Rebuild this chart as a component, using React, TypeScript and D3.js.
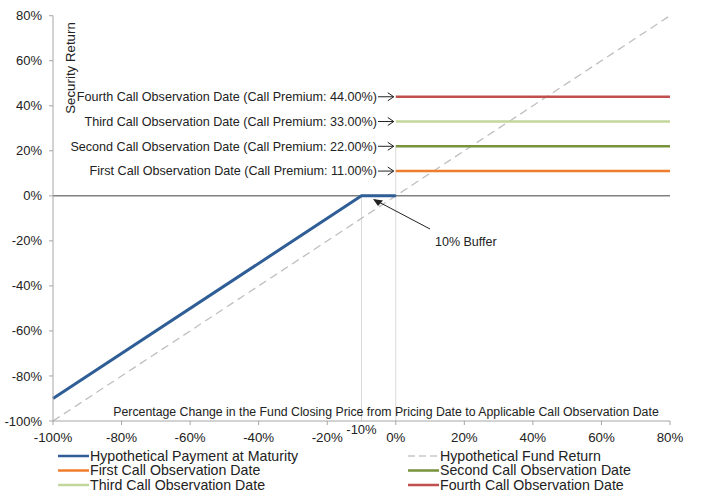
import React from "react";
import * as d3 from "d3";

const xTicks = [-100, -80, -60, -40, -20, 0, 20, 40, 60, 80];
const yTicks = [-100, -80, -60, -40, -20, 0, 20, 40, 60, 80];
const paymentX = [-100, -10, 0];
const paymentY = [-90, 0, 0];
const fundX = [-100, 80];
const fundY = [-100, 80];
const callNames = ["First", "Second", "Third", "Fourth"];
const callPremiums = [11, 22, 33, 44];
const callColors = ["#ef7d2e", "#77933c", "#c3d69b", "#c0504d"];
const callStart = 0;
const callEnd = 80;
const bufferLevel = -10;

const W = 706, H = 496;
const L = 53, R = 670, T = 15.7, B = 421;

export default function App() {
  const x = d3.scaleLinear().domain([-100, 80]).range([L, R]);
  const y = d3.scaleLinear().domain([-100, 80]).range([B, T]);
  const line = d3.line<[number, number]>().x(d => x(d[0])).y(d => y(d[1]));
  const payment = paymentX.map((v, i) => [v, paymentY[i]] as [number, number]);
  const fund = fundX.map((v, i) => [v, fundY[i]] as [number, number]);
  const font = "'Liberation Sans', Arial, sans-serif";

  const legend = [
    { label: "Hypothetical Payment at Maturity", color: "#2f5e96", dash: "", col: 0, row: 0 },
    { label: "Hypothetical Fund Return", color: "#c8c8c8", dash: "7,4", col: 1, row: 0 },
    { label: "First Call Observation  Date", color: callColors[0], dash: "", col: 0, row: 1 },
    { label: "Second Call Observation Date", color: callColors[1], dash: "", col: 1, row: 1 },
    { label: "Third Call Observation Date", color: callColors[2], dash: "", col: 0, row: 2 },
    { label: "Fourth Call Observation Date", color: callColors[3], dash: "", col: 1, row: 2 },
  ];

  return (
    <svg width={W} height={H} style={{ position: "absolute", left: 0, top: 0, background: "#fff" }} fontFamily={font}>
      {/* vertical reference lines */}
      <line x1={x(bufferLevel)} x2={x(bufferLevel)} y1={y(0)} y2={B} stroke="#d9d9d9" strokeWidth={1} />
      <line x1={x(0)} x2={x(0)} y1={y(22)} y2={B} stroke="#d9d9d9" strokeWidth={1} />
      {/* fund return dashed */}
      <path d={line(fund) || ""} fill="none" stroke="#bfbfbf" strokeWidth={1.3} strokeDasharray="8,5" />
      {/* zero line */}
      <line x1={L} x2={R} y1={y(0)} y2={y(0)} stroke="#404040" strokeWidth={1} />
      {/* call lines */}
      {callPremiums.map((p, i) => (
        <line key={i} x1={x(callStart)} x2={x(callEnd)} y1={y(p)} y2={y(p)} stroke={callColors[i]} strokeWidth={2.5} />
      ))}
      {/* payment */}
      <path d={line(payment) || ""} fill="none" stroke="#2f5e96" strokeWidth={3} />
      {/* y axis */}
      <line x1={L} x2={L} y1={T} y2={B} stroke="#a6a6a6" />
      {yTicks.map(t => (
        <g key={t}>
          <line x1={L - 4} x2={L} y1={y(t)} y2={y(t)} stroke="#a6a6a6" />
          <text x={42} y={y(t)} dy="0.35em" textAnchor="end" fontSize={13} fill="#222">{t}%</text>
        </g>
      ))}
      {/* x axis */}
      <line x1={L} x2={R} y1={B} y2={B} stroke="#a6a6a6" />
      {xTicks.map(t => (
        <g key={t}>
          <line x1={x(t)} x2={x(t)} y1={B} y2={B + 4} stroke="#a6a6a6" />
          <text x={x(t)} y={442} textAnchor="middle" fontSize={13.3} fill="#222">{t}%</text>
        </g>
      ))}
      <text x={x(bufferLevel)} y={434} textAnchor="middle" fontSize={13} fill="#222">{bufferLevel}%</text>
      <text x={386} y={416} textAnchor="middle" fontSize={12.3} fill="#222">Percentage Change in the Fund Closing Price from Pricing Date to Applicable Call Observation Date</text>
      <text transform={`translate(75,68) rotate(-90)`} textAnchor="middle" fontSize={13.3} fill="#222">Security Return</text>
      {/* annotations */}
      {callPremiums.map((p, i) => (
        <g key={i}>
          <text x={377} y={y(p)} dy="0.35em" textAnchor="end" fontSize={12.6} fill="#222">{`${callNames[i]} Call Observation Date (Call Premium: ${p.toFixed(2)}%)`}</text>
          <line x1={378} x2={x(0) - 2} y1={y(p)} y2={y(p)} stroke="#222" strokeWidth={1} />
          <path d={`M${x(0) - 8},${y(p) - 4} L${x(0) - 2},${y(p)} L${x(0) - 8},${y(p) + 4}`} fill="none" stroke="#222" strokeWidth={1} />
        </g>
      ))}
      {/* buffer annotation */}
      <line x1={430} x2={375} y1={229} y2={200} stroke="#222" strokeWidth={1} />
      <path d="M373,199 L383,200.5 L378,206 Z" fill="#222" />
      <text x={435} y={246} fontSize={12.5} fill="#222">10% Buffer</text>
      {/* legend */}
      {legend.map((d, i) => {
        const lx = d.col === 0 ? 58 : 408;
        const ly = 456 + d.row * 14.5;
        return (
          <g key={i}>
            <line x1={lx} x2={lx + 31} y1={ly} y2={ly} stroke={d.color} strokeWidth={d.dash ? 1.5 : 2.5} strokeDasharray={d.dash || undefined} />
            <text x={lx + 32} y={ly} dy="0.35em" fontSize={14.2} fill="#222">{d.label}</text>
          </g>
        );
      })}
    </svg>
  );
}
